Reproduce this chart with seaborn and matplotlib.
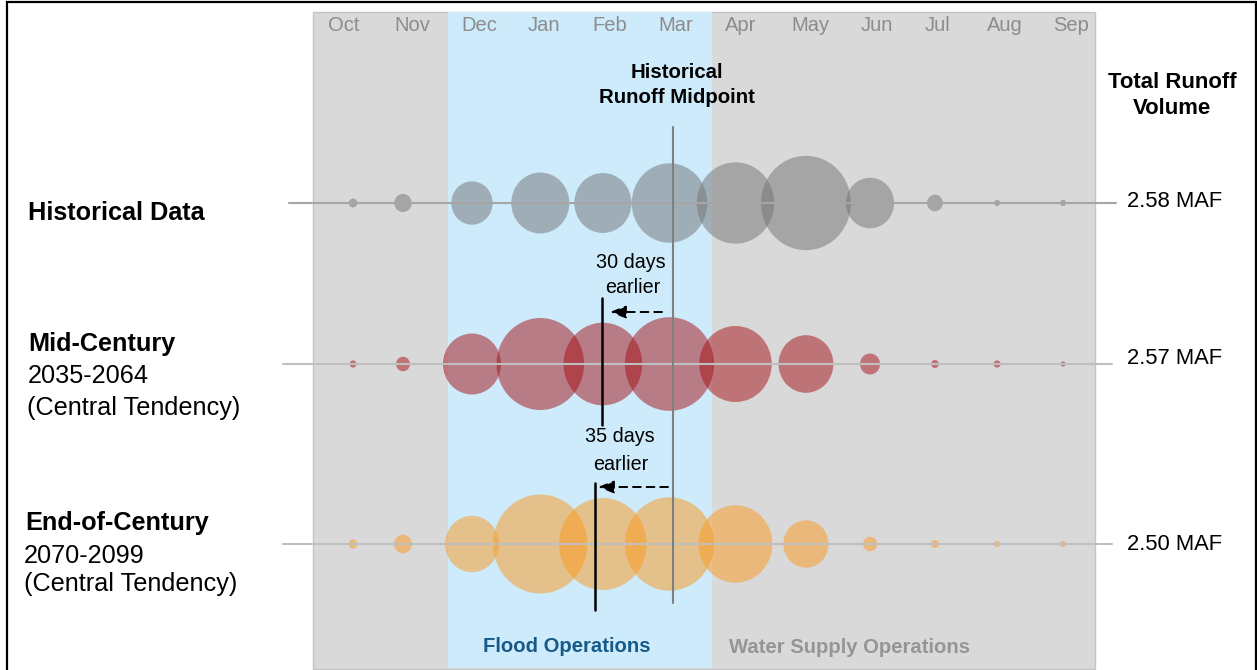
import matplotlib.pyplot as plt
from matplotlib.patches import Rectangle
from matplotlib.path import Path
from matplotlib.transforms import Affine2D
import pandas as pd
import seaborn as sns

# ---- data ----
months = ["Oct", "Nov", "Dec", "Jan", "Feb", "Mar", "Apr", "May", "Jun", "Jul", "Aug", "Sep"]
# bubble centre for each month, day of water year (Oct 1 = day 0)
bubble_day = [18.7, 42.0, 74.2, 106.1, 135.3, 166.4, 197.2, 230.1, 260.0, 290.3, 319.3, 350.1]
month_label_day = [14.5, 46.2, 77.5, 107.8, 138.6, 169.4, 199.8, 232.4, 263.2, 291.7, 323.0, 353.8]

# monthly runoff volume (KAF)
hist_kaf = [6, 25, 141, 279, 270, 473, 497, 669, 192, 21, 3, 3]
mid_kaf = [4, 16, 279, 635, 512, 658, 434, 249, 33, 5, 4, 2]
end_kaf = [6, 26, 239, 736, 635, 655, 452, 169, 16, 5, 3, 3]

scenarios = ["Historical", "Mid-Century", "End-of-Century"]
total_maf = ["2.58 MAF", "2.57 MAF", "2.50 MAF"]
midpoint_day = [168.0, 134.7, 131.6]
flood_season = [63.0, 186.2]

# ---- layout (pixels of the 1257x670 canvas) ----
W, H = 1257, 670
PANEL_L, PANEL_R = 313, 1095
px_per_day = (PANEL_R - PANEL_L) / 365.0


def dx(px):
	return (px - PANEL_L) / px_per_day


row_y = {"Historical": 203, "Mid-Century": 364, "End-of-Century": 544}
colors = {"Historical": "#737373", "Mid-Century": "#a50f15", "End-of-Century": "#fc981c"}

KAF_PER_PX2 = 0.30025
VMAX = 800.0
SMAX = (2 * 0.72) ** 2 * VMAX / KAF_PER_PX2

rows = []
for name, vals in zip(scenarios, [hist_kaf, mid_kaf, end_kaf]):
	for m, d, v in zip(months, bubble_day, vals):
		rows.append({"scenario": name, "month": m, "day": d, "kaf": v, "row": row_y[name]})
df = pd.DataFrame(rows)

sns.set_theme(style="white")
plt.rcParams["font.family"] = ["Liberation Sans", "DejaVu Sans"]
plt.rcParams["text.color"] = "black"

fig = plt.figure(figsize=(W / 100, H / 100), dpi=100)
ax = fig.add_axes([0, 0, 1, 1])

# background bands
ax.add_patch(Rectangle((0, 12), 365, 657, facecolor="#d9d9d9", edgecolor="#c4c4c4", lw=1, zorder=0))
ax.add_patch(Rectangle((flood_season[0], 12), flood_season[1] - flood_season[0], 656,
	facecolor="#cdebfb", edgecolor="none", zorder=1))

# slightly tall ellipse marker (source image is stretched vertically)
ell = Path.unit_circle().transformed(Affine2D().scale(1 / 1.05, 1.0))

sns.scatterplot(data=df, x="day", y="row", hue="scenario", palette=colors,
	size="kaf", sizes=(0, SMAX), size_norm=(0, VMAX), marker=ell,
	alpha=0.5, linewidth=0, edgecolor="none", legend=False, ax=ax, zorder=2)

# row base lines
ax.plot([dx(289), dx(1116)], [203, 203], color="#a6a6a6", lw=1.5, zorder=3)
ax.plot([dx(283), dx(1112)], [364, 364], color="#bfbfbf", lw=1.5, zorder=3)
ax.plot([dx(283), dx(1112)], [544, 544], color="#bfbfbf", lw=1.5, zorder=3)

# runoff midpoints
ax.plot([midpoint_day[0]] * 2, [127, 603], color="#7f7f7f", lw=1.5, zorder=4)
ax.plot([midpoint_day[1]] * 2, [298, 425], color="black", lw=1.8, zorder=4)
ax.plot([midpoint_day[2]] * 2, [483, 610], color="black", lw=1.8, zorder=4)

arrow = dict(arrowstyle="-|>,head_length=0.8,head_width=0.32", color="black", lw=1.4,
	linestyle=(0, (4, 3)), shrinkA=0, shrinkB=0)
ax.annotate("", xy=(dx(610), 312), xytext=(dx(662), 312), arrowprops=arrow, zorder=5)
ax.annotate("", xy=(dx(598), 487), xytext=(dx(668), 487), arrowprops=arrow, zorder=5)

# month labels
for lab, d in zip(months, month_label_day):
	ax.text(d, 31, lab, ha="center", va="baseline", fontsize=14.5, color="#8c8c8c", zorder=5)

ax.text(dx(677), 78.5, "Historical", ha="center", va="baseline", fontsize=14.7, fontweight="bold", zorder=5)
ax.text(dx(677), 103.3, "Runoff Midpoint", ha="center", va="baseline", fontsize=14.7, fontweight="bold", zorder=5)
ax.text(dx(1172), 88.3, "Total Runoff", ha="center", va="baseline", fontsize=15.9, fontweight="bold")
ax.text(dx(1172), 114.3, "Volume", ha="center", va="baseline", fontsize=15.9, fontweight="bold")

for lab, y in zip(total_maf, [206.7, 364.3, 550]):
	ax.text(dx(1127), y, lab, ha="left", va="baseline", fontsize=15.8)

ax.text(dx(630.5), 268.3, "30 days", ha="center", va="baseline", fontsize=14.2, zorder=5)
ax.text(dx(632.5), 293.3, "earlier", ha="center", va="baseline", fontsize=14.2, zorder=5)
ax.text(dx(620), 442.5, "35 days", ha="center", va="baseline", fontsize=14.2, zorder=5)
ax.text(dx(620.5), 470, "earlier", ha="center", va="baseline", fontsize=14.2, zorder=5)

# scenario labels on the left
ax.text(dx(28), 220, "Historical Data", ha="left", va="baseline", fontsize=18.2, fontweight="bold")
ax.text(dx(28), 351.4, "Mid-Century", ha="left", va="baseline", fontsize=18.2, fontweight="bold")
ax.text(dx(28), 383.3, "2035-2064", ha="left", va="baseline", fontsize=18.2)
ax.text(dx(27), 414.8, "(Central Tendency)", ha="left", va="baseline", fontsize=18.2)
ax.text(dx(25), 529.8, "End-of-Century", ha="left", va="baseline", fontsize=18.2, fontweight="bold")
ax.text(dx(24), 563.3, "2070-2099", ha="left", va="baseline", fontsize=18.2)
ax.text(dx(24), 591, "(Central Tendency)", ha="left", va="baseline", fontsize=18.2)

ax.text(dx(567), 652.3, "Flood Operations", ha="center", va="baseline", fontsize=14.6,
	fontweight="bold", color="#175a88", zorder=5)
ax.text(dx(849.5), 653, "Water Supply Operations", ha="center", va="baseline", fontsize=14.6,
	fontweight="bold", color="#959595", zorder=5)

ax.set_xlim(dx(0), dx(W))
ax.set_ylim(H, 0)
ax.set_axis_off()

# outer frame
fig.add_artist(Rectangle((6.5 / W, -0.05), (1255.5 - 6.5) / W, 1.05 - 1.5 / H,
	transform=fig.transFigure, fill=False, edgecolor="black", lw=1.6))

fig.savefig("out.png", dpi=100)
